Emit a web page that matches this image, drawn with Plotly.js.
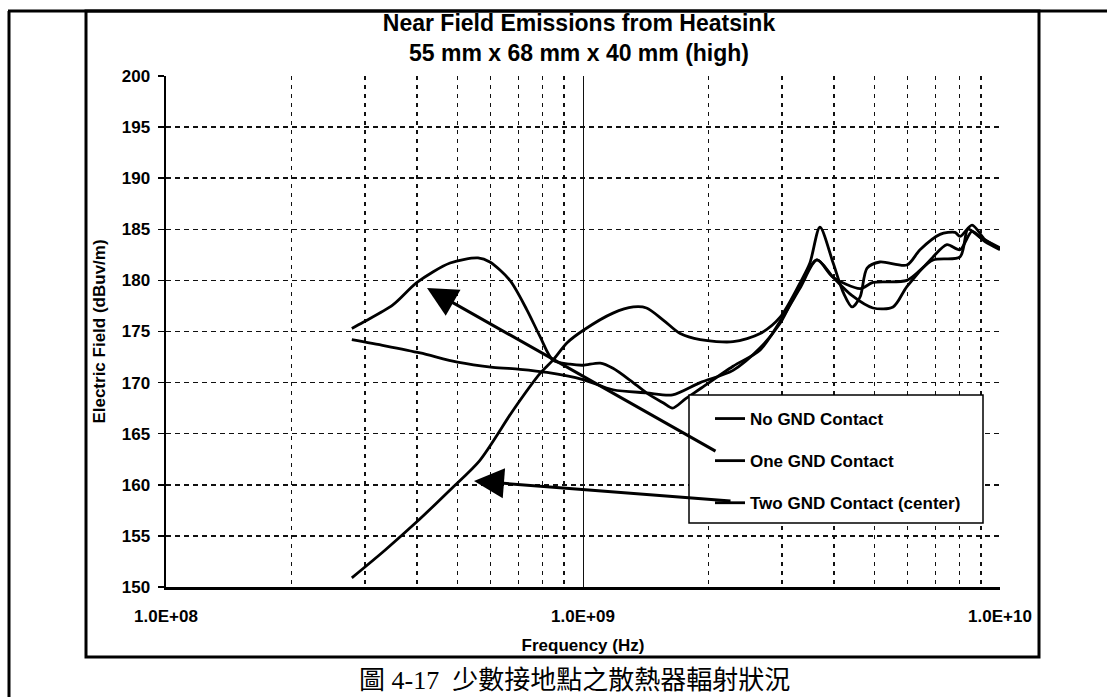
<!DOCTYPE html>
<html>
<head>
<meta charset="utf-8">
<script src="https://cdn.plot.ly/plotly-3.0.1.min.js"></script>
<style>
  html, body { margin: 0; padding: 0; background: #fff; }
  #chart { width: 1107px; height: 697px; }
</style>
</head>
<body>
<div id="chart"></div>
<script>
// ---------------- DATA ----------------
const seriesNames = ['No GND Contact', 'One GND Contact', 'Two GND Contact (center)'];

const freqNoGnd = [2.79e8, 3.35e8, 4.07e8, 5.0e8, 6.08e8, 7.06e8, 8.2e8, 1.0e9, 1.18e9, 1.42e9, 1.64e9, 1.91e9, 2.29e9, 2.66e9, 2.97e9, 3.31e9, 3.64e9, 3.98e9, 4.42e9, 4.96e9, 5.54e9, 5.98e9, 6.91e9, 7.46e9, 8.02e9, 8.57e9, 9.2e9, 1.0e10];
const fieldNoGnd = [174.2, 173.6, 172.9, 172.0, 171.5, 171.3, 171.0, 170.3, 169.3, 169.0, 168.8, 170.0, 171.2, 173.4, 175.8, 179.5, 182.0, 180.3, 178.5, 177.3, 177.4, 179.4, 182.3, 183.5, 183.0, 184.8, 183.8, 183.0];

const freqOneGnd = [2.79e8, 2.97e8, 3.5e8, 4.0e8, 4.8e8, 5.6e8, 5.98e8, 6.68e8, 7.34e8, 7.89e8, 8.47e8, 9.31e8, 1.0e9, 1.1e9, 1.18e9, 1.3e9, 1.42e9, 1.56e9, 1.64e9, 1.76e9, 1.91e9, 2.29e9, 2.66e9, 2.97e9, 3.31e9, 3.64e9, 3.98e9, 4.62e9, 4.96e9, 5.98e9, 6.91e9, 8.02e9, 8.38e9, 8.96e9, 1.0e10];
const fieldOneGnd = [175.3, 175.9, 177.6, 179.8, 181.7, 182.2, 181.8, 180.0, 177.1, 174.5, 172.2, 171.8, 171.7, 171.9, 171.4, 170.2, 169.0, 168.0, 167.5, 168.4, 169.4, 171.6, 173.2, 176.0, 179.2, 182.0, 180.3, 179.2, 179.8, 180.0, 182.0, 182.3, 185.0, 184.2, 183.2];

const freqTwoGnd = [2.79e8, 3.35e8, 4.0e8, 4.8e8, 5.66e8, 6.8e8, 7.89e8, 8.47e8, 9.16e8, 1.0e9, 1.18e9, 1.32e9, 1.42e9, 1.56e9, 1.71e9, 1.91e9, 2.29e9, 2.66e9, 2.97e9, 3.31e9, 3.5e9, 3.7e9, 3.98e9, 4.21e9, 4.42e9, 4.62e9, 4.8e9, 5.15e9, 5.98e9, 6.43e9, 7.18e9, 7.8e9, 8.02e9, 8.57e9, 9.2e9, 1.0e10];
const fieldTwoGnd = [150.9, 153.6, 156.4, 159.5, 162.4, 167.3, 170.9, 172.2, 173.9, 175.1, 176.8, 177.4, 177.3, 176.1, 174.8, 174.2, 174.0, 174.8, 176.4, 179.7, 181.7, 185.2, 181.7, 178.8, 177.4, 178.4, 181.2, 181.8, 181.5, 183.0, 184.5, 184.7, 184.3, 185.4, 184.0, 183.1];

const majorFreqTicks = [1e8, 1e9, 1e10];
const majorFreqLabels = ['1.0E+08', '1.0E+09', '1.0E+10'];
const minorFreqTicks = [2e8, 3e8, 4e8, 5e8, 6e8, 7e8, 8e8, 9e8, 2e9, 3e9, 4e9, 5e9, 6e9, 7e9, 8e9, 9e9];

const titleText = 'Near Field Emissions from Heatsink<br>55 mm x 68 mm x 40 mm (high)';
const xTitle = 'Frequency (Hz)';
const yTitle = 'Electric Field (dBuv/m)';
const captionText = '圖 4-17\u00a0\u00a0少數接地點之散熱器輻射狀況';

// ---------------- LAYOUT HELPERS ----------------
const W = 1107, H = 697;
const PL = 166, PR = 1000, PT = 76, PB = 587;   // plot area in pixels
const px = v => (v - PL) / (PR - PL);
const py = v => (PB - v) / (PB - PT);

const FONT = 'Liberation Sans, Arial, Helvetica, sans-serif';
const bold = (size) => ({ family: FONT, size: size, color: '#000', weight: 700 });

function line(name, xs, ys, grp) {
  return {
    type: 'scatter', mode: 'lines', name: name, x: xs, y: ys,
    legendgroup: grp,
    line: { color: '#000', width: 2.8, shape: 'spline', smoothing: 0.8 },
    hoverinfo: 'skip'
  };
}

const traces = [
  line(seriesNames[0], freqNoGnd, fieldNoGnd, 'a'),
  line(seriesNames[1], freqOneGnd, fieldOneGnd, 'b'),
  line(seriesNames[2], freqTwoGnd, fieldTwoGnd, 'c')
];

const layout = {
  width: W, height: H,
  paper_bgcolor: '#fff', plot_bgcolor: '#fff',
  margin: { l: PL, r: W - PR, t: PT, b: H - PB, pad: 0 },
  showlegend: true,
  title: {
    text: titleText, font: bold(23),
    x: px(579), xref: 'paper', xanchor: 'center',
    y: 1 - 31 / H, yref: 'container', yanchor: 'top'
  },
  xaxis: {
    type: 'log', range: [8, 10], autorange: false,
    tickmode: 'array', tickvals: majorFreqTicks, ticktext: majorFreqLabels,
    tickfont: bold(17), ticks: '', ticklabelstandoff: 12,
    showgrid: true, gridcolor: '#111', gridwidth: 1, griddash: 'solid',
    minor: { tickvals: minorFreqTicks, showgrid: true, gridcolor: '#111', gridwidth: 1.5, griddash: '4px,5px', ticks: '' },
    showline: true, linecolor: '#000', linewidth: 2.5,
    zeroline: false, automargin: false,
    title: { text: xTitle, font: bold(17), standoff: 14 }
  },
  yaxis: {
    range: [150, 200], autorange: false,
    tick0: 150, dtick: 5,
    tickfont: bold(17), ticks: 'outside', ticklen: 6, tickwidth: 1.5, tickcolor: '#000',
    ticklabelstandoff: 4,
    showgrid: true, gridcolor: '#111', gridwidth: 1.5, griddash: '5px,4px',
    showline: true, linecolor: '#000', linewidth: 2.5,
    zeroline: false, automargin: false,
    title: { text: yTitle, font: bold(17), standoff: 12 }
  },
  legend: {
    x: px(710), y: py(401), xanchor: 'left', yanchor: 'top',
    xref: 'paper', yref: 'paper',
    bgcolor: 'rgba(0,0,0,0)', borderwidth: 0,
    font: bold(17), tracegroupgap: 17, itemwidth: 30
  },
  shapes: [
    // chart box
    { type: 'rect', xref: 'paper', yref: 'paper', x0: px(86), x1: px(1039), y0: py(657), y1: py(11),
      line: { color: '#000', width: 3 }, fillcolor: 'rgba(0,0,0,0)', layer: 'above' },
    // outer table left line
    { type: 'line', xref: 'paper', yref: 'paper', x0: px(9), x1: px(9), y0: py(11), y1: py(705),
      line: { color: '#000', width: 3 }, layer: 'above' },
    // outer table top line
    { type: 'line', xref: 'paper', yref: 'paper', x0: px(8), x1: px(1115), y0: py(11), y1: py(11),
      line: { color: '#000', width: 3 }, layer: 'above' },
    // legend box
    { type: 'rect', xref: 'paper', yref: 'paper', x0: px(689), x1: px(983), y0: py(523), y1: py(395),
      line: { color: '#000', width: 1.5 }, fillcolor: '#fff', layer: 'above' }
  ],
  annotations: [
    { xref: 'paper', yref: 'paper', x: px(427), y: py(288), text: '', showarrow: true,
      ax: 290, ay: 164, arrowhead: 2, arrowsize: 2, arrowwidth: 3, arrowcolor: '#000' },
    { xref: 'paper', yref: 'paper', x: px(474), y: py(481), text: '', showarrow: true,
      ax: 258, ay: 20, arrowhead: 2, arrowsize: 2, arrowwidth: 3, arrowcolor: '#000' },
    { xref: 'paper', yref: 'paper', x: px(574), y: py(680), xanchor: 'center', yanchor: 'middle',
      text: captionText, showarrow: false,
      font: { family: "'Liberation Serif', 'Noto Sans CJK TC', serif", size: 26, color: '#000' } }
  ]
};

Plotly.newPlot('chart', traces, layout, { displayModeBar: false, staticPlot: true });
</script>
</body>
</html>
